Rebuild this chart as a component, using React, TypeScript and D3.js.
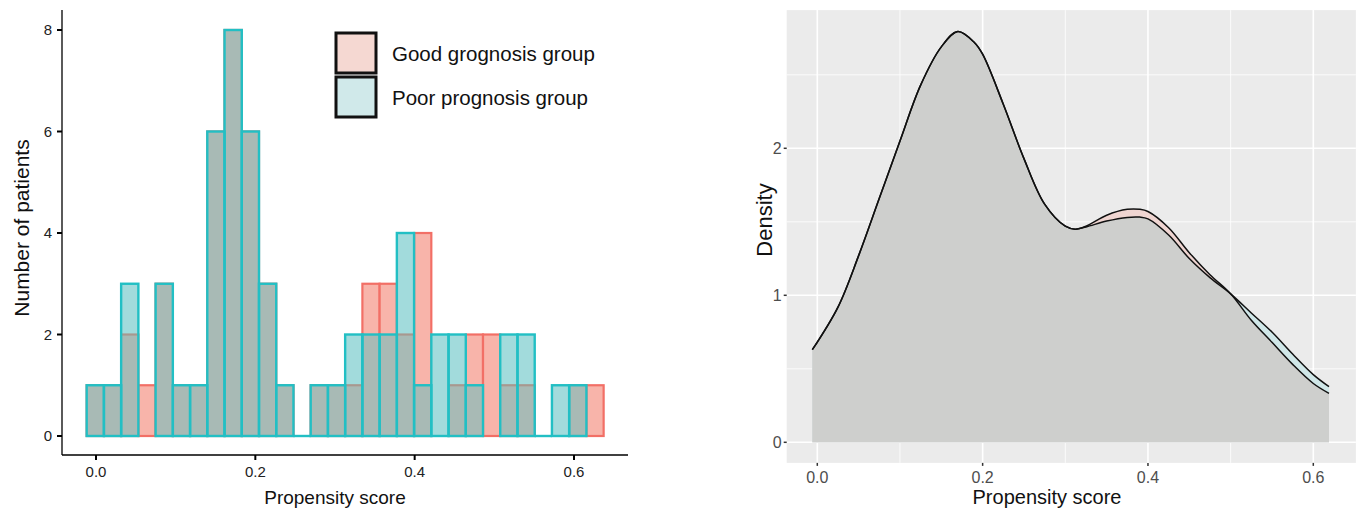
import React from 'react';
import * as d3 from 'd3';

// histogram: 30 bins, counts per group
const binStart = -0.0117;
const binWidth = 0.02163;
const goodCounts = [1, 1, 2, 1, 3, 1, 1, 6, 8, 6, 3, 1, 0, 1, 1, 1, 3, 3, 2, 4, 0, 1, 2, 2, 1, 1, 0, 0, 1, 1];
const poorCounts = [1, 1, 3, 0, 3, 1, 1, 6, 8, 6, 3, 1, 0, 1, 1, 2, 2, 2, 4, 1, 2, 2, 1, 0, 2, 2, 0, 1, 1, 0];
const histXTicks = [0, 0.2, 0.4, 0.6];
const histYTicks = [0, 2, 4, 6, 8];
const legendLabels = ['Good grognosis group', 'Poor prognosis group'];

// density curves
const densX = [-0.006, 0.025, 0.05, 0.075, 0.1, 0.125, 0.15, 0.17, 0.19, 0.2, 0.225, 0.25, 0.275, 0.3, 0.312, 0.325, 0.35, 0.375, 0.39, 0.4, 0.425, 0.45, 0.475, 0.5, 0.525, 0.55, 0.575, 0.6, 0.619];
const goodDens = [0.63, 0.92, 1.27, 1.66, 2.05, 2.43, 2.69, 2.795, 2.72, 2.64, 2.3, 1.93, 1.62, 1.47, 1.45, 1.47, 1.545, 1.585, 1.585, 1.57, 1.46, 1.29, 1.14, 1.01, 0.83, 0.68, 0.53, 0.4, 0.333];
const poorDens = [0.63, 0.92, 1.27, 1.66, 2.05, 2.43, 2.69, 2.795, 2.72, 2.64, 2.3, 1.93, 1.62, 1.47, 1.45, 1.465, 1.505, 1.53, 1.532, 1.52, 1.41, 1.25, 1.12, 1.01, 0.88, 0.75, 0.6, 0.46, 0.378];
const densXTicks = [0, 0.2, 0.4, 0.6];
const densXMinor = [0.1, 0.3, 0.5];
const densYTicks = [0, 1, 2];
const densYMinor = [0.5, 1.5, 2.5];

const font = '"Liberation Sans", Arial, sans-serif';
const narrow = '"Liberation Sans Narrow", "Arial Narrow", "Liberation Sans", sans-serif';

const Histogram = () => {
  const x = d3.scaleLinear().domain([0, 0.6]).range([96, 574]);
  const y = d3.scaleLinear().domain([0, 8]).range([436, 30]);
  const bins = goodCounts.map((g, i) => ({
    x0: binStart + i * binWidth,
    x1: binStart + (i + 1) * binWidth,
    good: g,
    poor: poorCounts[i],
  }));

  return (
    <g>
      {/* good group */}
      {bins.filter(b => b.good > 0).map((b, i) => (
        <rect key={'g' + i} x={x(b.x0)} y={y(b.good)} width={x(b.x1) - x(b.x0)} height={y(0) - y(b.good)}
          fill="#F8B4AA" stroke="#F26F66" strokeWidth={2.2} />
      ))}
      {/* poor group fill */}
      {bins.filter(b => b.poor > 0).map((b, i) => (
        <rect key={'p' + i} x={x(b.x0)} y={y(b.poor)} width={x(b.x1) - x(b.x0)} height={y(0) - y(b.poor)}
          fill="#A2DBDC" />
      ))}
      {/* overlap */}
      {bins.filter(b => Math.min(b.good, b.poor) > 0).map((b, i) => (
        <rect key={'o' + i} x={x(b.x0)} y={y(Math.min(b.good, b.poor))} width={x(b.x1) - x(b.x0)}
          height={y(0) - y(Math.min(b.good, b.poor))} fill="#A8BAB5" />
      ))}
      {bins.filter(b => b.good > 0 && b.poor > b.good).map((b, i) => (
        <line key={'l' + i} x1={x(b.x0)} x2={x(b.x1)} y1={y(b.good)} y2={y(b.good)} stroke="#A8988F" strokeWidth={2.2} />
      ))}
      {bins.filter(b => b.poor > 0).map((b, i) => (
        <rect key={'ps' + i} x={x(b.x0)} y={y(b.poor)} width={x(b.x1) - x(b.x0)} height={y(0) - y(b.poor)}
          fill="none" stroke="#22BFC4" strokeWidth={2.4} />
      ))}
      {/* empty bins baseline */}
      {bins.filter(b => b.poor === 0 && b.good === 0).map((b, i) => (
        <line key={'e' + i} x1={x(b.x0)} x2={x(b.x1)} y1={y(0)} y2={y(0)} stroke="#22BFC4" strokeWidth={2.4} />
      ))}

      {/* axes */}
      <line x1={62} x2={62} y1={10} y2={455} stroke="#000" strokeWidth={1.3} />
      <line x1={62} x2={628} y1={455} y2={455} stroke="#000" strokeWidth={1.3} />
      {histYTicks.map(t => (
        <g key={t}>
          <line x1={57} x2={62} y1={y(t)} y2={y(t)} stroke="#000" strokeWidth={2} />
          <text x={52} y={y(t)} dy="0.35em" textAnchor="end" fontFamily={narrow} fontSize={15} fill="#222">{t}</text>
        </g>
      ))}
      {histXTicks.map(t => (
        <g key={t}>
          <line x1={x(t)} x2={x(t)} y1={455} y2={460} stroke="#000" strokeWidth={2} />
          <text x={x(t)} y={472} dy="0.35em" textAnchor="middle" fontFamily={narrow} fontSize={15} fill="#222">{d3.format('.1f')(t)}</text>
        </g>
      ))}
      <text transform="translate(22,228) rotate(-90)" textAnchor="middle" dy="0.35em" fontFamily={font} fontSize={21} fill="#111">Number of patients</text>
      <text x={335} y={497} textAnchor="middle" dy="0.35em" fontFamily={font} fontSize={19} fill="#111">Propensity score</text>

      {/* legend */}
      {legendLabels.map((lab, i) => (
        <g key={lab} transform={`translate(336,${33 + i * 44})`}>
          <rect width={40} height={40} fill={i === 0 ? '#F5D8D2' : '#D0E9EA'} stroke="#111" strokeWidth={3} />
          <text x={56} y={21} dy="0.35em" fontFamily={font} fontSize={20.5} fill="#111">{lab}</text>
        </g>
      ))}
    </g>
  );
};

const Density = () => {
  const x = d3.scaleLinear().domain([0, 0.6]).range([817.3, 1313.3]);
  const y = d3.scaleLinear().domain([0, 2]).range([442.3, 148.3]);
  const px0 = x(-0.037), px1 = x(0.6515);
  const py0 = y(2.94), py1 = y(-0.14);
  const pts = densX.map((d, i) => ({ x: d, g: goodDens[i], p: poorDens[i] }));
  const curve = d3.curveCatmullRom;
  const area = (f: (d: any) => number) =>
    d3.area<any>().x(d => x(d.x)).y0(y(0)).y1(d => y(f(d))).curve(curve)(pts) || '';
  const line = (f: (d: any) => number) =>
    d3.line<any>().x(d => x(d.x)).y(d => y(f(d))).curve(curve)(pts) || '';

  return (
    <g>
      <rect x={px0} y={py0} width={px1 - px0} height={py1 - py0} fill="#EBEBEB" />
      {densYMinor.map(t => <line key={t} x1={px0} x2={px1} y1={y(t)} y2={y(t)} stroke="#fff" strokeWidth={0.8} />)}
      {densXMinor.map(t => <line key={t} x1={x(t)} x2={x(t)} y1={py0} y2={py1} stroke="#fff" strokeWidth={0.8} />)}
      {densYTicks.map(t => <line key={t} x1={px0} x2={px1} y1={y(t)} y2={y(t)} stroke="#fff" strokeWidth={1.6} />)}
      {densXTicks.map(t => <line key={t} x1={x(t)} x2={x(t)} y1={py0} y2={py1} stroke="#fff" strokeWidth={1.6} />)}

      <path d={area(d => d.g)} fill="#EFD3CE" fillOpacity={0.92} />
      <path d={area(d => d.p)} fill="#CDE6E7" fillOpacity={0.92} />
      <path d={area(d => Math.min(d.g, d.p))} fill="#CDCDCB" fillOpacity={0.95} />
      <path d={line(d => d.g)} fill="none" stroke="#111" strokeWidth={1.5} />
      <path d={line(d => d.p)} fill="none" stroke="#111" strokeWidth={1.5} />

      {densYTicks.map(t => (
        <g key={t}>
          <line x1={px0 - 3} x2={px0} y1={y(t)} y2={y(t)} stroke="#333" strokeWidth={1.5} />
          <text x={px0 - 5} y={y(t)} dy="0.35em" textAnchor="end" fontFamily={font} fontSize={16} fill="#4D4D4D">{t}</text>
        </g>
      ))}
      {densXTicks.map(t => (
        <g key={t}>
          <line x1={x(t)} x2={x(t)} y1={py1} y2={py1 + 3} stroke="#333" strokeWidth={1.5} />
          <text x={x(t)} y={477} dy="0.35em" textAnchor="middle" fontFamily={font} fontSize={16} fill="#4D4D4D">{d3.format('.1f')(t)}</text>
        </g>
      ))}
      <text transform="translate(764,220) rotate(-90)" textAnchor="middle" dy="0.35em" fontFamily={font} fontSize={22} fill="#111">Density</text>
      <text x={1047} y={497} textAnchor="middle" dy="0.35em" fontFamily={font} fontSize={20} fill="#111">Propensity score</text>
    </g>
  );
};

const App = () => (
  <svg width={1357} height={512} style={{ position: 'absolute', left: 0, top: 0, background: '#fff' }}>
    <Histogram />
    <Density />
  </svg>
);

export default App;
